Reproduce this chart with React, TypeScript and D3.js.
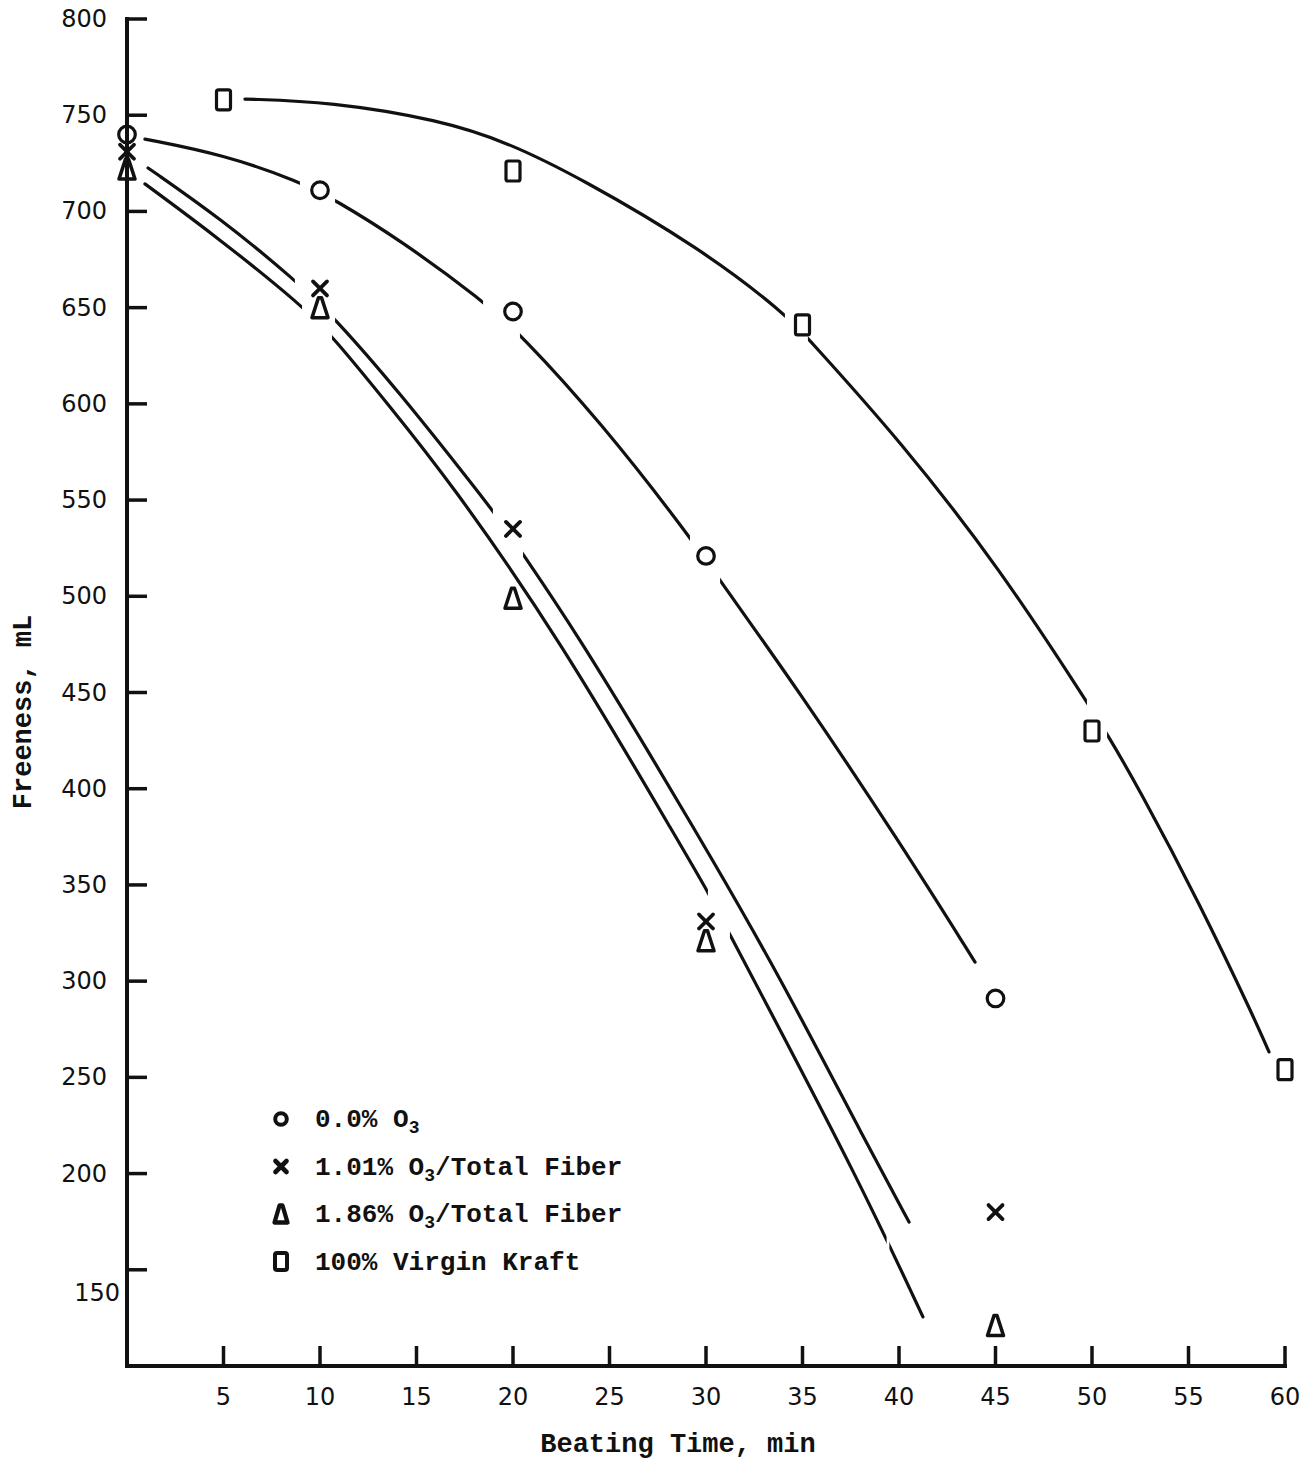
import React from 'react';
import * as d3 from 'd3';

const W = 1301;
const H = 1463;

// Axis ticks
const xTicks = [5, 10, 15, 20, 25, 30, 35, 40, 45, 50, 55, 60];
const yTicks = [150, 200, 250, 300, 350, 400, 450, 500, 550, 600, 650, 700, 750, 800];

// Measured freeness (mL) against beating time (min)
const circleData: [number, number][] = [[0, 740], [10, 711], [20, 648], [30, 521], [45, 291]];
const crossData: [number, number][] = [[0, 731], [10, 660], [20, 535], [30, 331], [45, 180]];
const triangleData: [number, number][] = [[0, 722], [10, 650], [20, 499], [30, 321], [45, 121]];
const squareData: [number, number][] = [[5, 758], [20, 721], [35, 641], [50, 430], [60, 254]];

// Hand-fitted trend curves (time, freeness) and the stretches where the pen was lifted
const circleFit: [number, number][] = [
  [0.93, 737.6], [5, 729.5], [8.96, 715.5], [10.78, 706.0], [14.15, 685.2], [18.45, 653.5], [20.36, 636.5],
  [24.51, 591.0], [29.17, 531.0], [30.73, 508.0], [34.87, 450.0], [40.05, 372.0], [43.94, 309.9],
];
const circleGaps: [number, number][] = [[8.96, 10.78], [18.45, 20.36], [29.17, 30.73]];

const crossFit: [number, number][] = [
  [1.09, 722.6], [4.82, 696.5], [8.7, 664.5], [10.78, 644.5], [14.15, 605.5], [17.67, 561.0],
  [18.96, 544.5], [20.52, 522.0], [23.37, 479.5], [27.1, 418.0], [30.31, 363.5], [33.68, 305.0],
  [38.5, 212.3], [40.52, 174.8],
];
const crossGaps: [number, number][] = [[8.7, 10.78], [18.96, 20.52]];

const triangleFit: [number, number][] = [
  [0.93, 714.3], [4.82, 685.5], [9.07, 651.0], [10.62, 635.5], [13.63, 598.5], [16.63, 561.0],
  [22.33, 479.5], [29.07, 364.0], [30.1, 346.5], [31.24, 324.0], [32.38, 302.5], [37.98, 195.5],
  [41.24, 125.5],
];
const triangleGaps: [number, number][] = [[9.07, 10.62], [30.1, 31.24], [39.36, 39.5]];

const squareFit: [number, number][] = [
  [6.11, 758.4], [10.52, 757.0], [16.22, 747.5], [19.69, 736.0], [23.47, 717.5], [29.69, 681.0],
  [34.09, 647.0], [35.28, 634.0], [40.05, 581.0], [45.23, 514.5], [49.74, 445.0], [50.78, 428.5],
  [52.38, 401.0], [55.6, 340.0], [58.45, 279.8], [59.17, 263.2],
];
const squareGaps: [number, number][] = [[34.09, 35.28], [49.74, 50.78]];

// Legend entries: main text, subscript, trailing text
const legendLabels: [string, string, string][] = [
  ['0.0% O', '3', ''],
  ['1.01% O', '3', '/Total Fiber'],
  ['1.86% O', '3', '/Total Fiber'],
  ['100% Virgin Kraft', '', ''],
];

// Break in the vertical axis (freeness values)
const axisBreak: [number, number] = [160.8, 162.8];

type Sym = 'circle' | 'cross' | 'triangle' | 'square';

const x = d3.scaleLinear().domain([0, 60]).range([127, 1285]);
const y = d3.scaleLinear().domain([100, 800]).range([1366, 19]);

const fitLine = d3
  .line<[number, number]>()
  .x((d) => x(d[0]))
  .y((d) => y(d[1]))
  .curve(d3.curveBasis);

const INK = '#111';

function Marker({ kind, cx, cy, bold = false }: { kind: Sym; cx: number; cy: number; bold?: boolean }) {
  const sw = bold ? 4 : 3.2;
  const common = { stroke: INK, fill: 'none', strokeWidth: sw, strokeLinejoin: 'round' as const };
  if (kind === 'circle') return <circle cx={cx} cy={cy} r={bold ? 5.8 : 8.3} {...common} />;
  if (kind === 'cross') {
    const a = bold ? 5.5 : 7;
    return (
      <g {...common} strokeWidth={sw + 0.6} strokeLinecap="round">
        <line x1={cx - a} y1={cy - a} x2={cx + a} y2={cy + a} />
        <line x1={cx - a} y1={cy + a} x2={cx + a} y2={cy - a} />
      </g>
    );
  }
  if (kind === 'triangle') {
    const hw = bold ? 6.5 : 8;
    const hh = bold ? 8.5 : 10;
    return (
      <path
        d={`M${cx - 1.5},${cy - hh} L${cx + 1.5},${cy - hh} L${cx + hw},${cy + hh} L${cx - hw},${cy + hh} Z`}
        {...common}
        strokeWidth={sw + 0.3}
      />
    );
  }
  const rw = bold ? 12 : 14;
  const rh = bold ? 17 : 20;
  return <rect x={cx - rw / 2} y={cy - rh / 2} width={rw} height={rh} rx={2} {...common} />;
}

const series: { id: string; kind: Sym; data: [number, number][]; fit: [number, number][]; gaps: [number, number][] }[] = [
  { id: 'c', kind: 'circle', data: circleData, fit: circleFit, gaps: circleGaps },
  { id: 'x', kind: 'cross', data: crossData, fit: crossFit, gaps: crossGaps },
  { id: 't', kind: 'triangle', data: triangleData, fit: triangleFit, gaps: triangleGaps },
  { id: 's', kind: 'square', data: squareData, fit: squareFit, gaps: squareGaps },
];

const legendKinds: Sym[] = ['circle', 'cross', 'triangle', 'square'];

export default function App() {
  const x0 = x(0);
  const yBottom = y(100);
  const tickFont = { fontFamily: '"DejaVu Sans", sans-serif', fontSize: 24, fill: INK };
  const typeFont = { fontFamily: '"Liberation Mono", "DejaVu Sans Mono", monospace', fontWeight: 700, fill: INK };

  return (
    <svg
      width={W}
      height={H}
      viewBox={`0 0 ${W} ${H}`}
      style={{ position: 'absolute', left: 0, top: 0, background: '#fff' }}
    >
      <defs>
        {series.map((s) => (
          <mask key={s.id} id={`gap-${s.id}`} maskUnits="userSpaceOnUse" x={0} y={0} width={W} height={H}>
            <rect x={0} y={0} width={W} height={H} fill="#fff" />
            {s.gaps.map((g, i) => (
              <rect key={i} x={x(g[0])} y={0} width={x(g[1]) - x(g[0])} height={H} fill="#000" />
            ))}
          </mask>
        ))}
      </defs>
      <rect x={0} y={0} width={W} height={H} fill="#fff" />

      {/* axes */}
      <g stroke={INK} strokeWidth={4} strokeLinecap="square">
        <line x1={x0} y1={y(800)} x2={x0} y2={y(axisBreak[1])} />
        <line x1={x0} y1={y(axisBreak[0])} x2={x0} y2={yBottom} />
        <line x1={x0} y1={yBottom} x2={x(60)} y2={yBottom} />
      </g>
      <g stroke={INK} strokeWidth={3.5}>
        {yTicks.map((t) => (
          <line key={t} x1={x0} x2={x0 + 20} y1={y(t)} y2={y(t)} />
        ))}
        {xTicks.map((t) => (
          <line key={t} x1={x(t)} x2={x(t)} y1={yBottom} y2={yBottom - 20} />
        ))}
      </g>
      <g {...tickFont}>
        {yTicks.map((t) => {
          const low = t === 150;
          return (
            <text
              key={t}
              x={low ? 120 : 107}
              y={y(t) + (low ? 23 : 0)}
              textAnchor="end"
              dominantBaseline="central"
            >
              {t}
            </text>
          );
        })}
        {xTicks.map((t) => (
          <text key={t} x={x(t)} y={1405} textAnchor="middle">
            {t}
          </text>
        ))}
      </g>

      {/* axis titles */}
      <text x={678} y={1452} textAnchor="middle" fontSize={27} {...typeFont}>
        Beating Time, min
      </text>
      <text transform="translate(31,712) rotate(-90)" textAnchor="middle" fontSize={27} {...typeFont}>
        Freeness, mL
      </text>

      {/* fitted curves */}
      {series.map((s) => (
        <path
          key={s.id}
          d={fitLine(s.fit) ?? ''}
          fill="none"
          stroke={INK}
          strokeWidth={3.2}
          strokeLinecap="round"
          mask={`url(#gap-${s.id})`}
        />
      ))}

      {/* data points */}
      {series.map((s) =>
        s.data.map((d, i) => <Marker key={`${s.id}${i}`} kind={s.kind} cx={x(d[0])} cy={y(d[1])} />)
      )}

      {/* legend */}
      {legendLabels.map((l, i) => {
        const base = 1127 + i * 47.5;
        return (
          <g key={i}>
            <Marker kind={legendKinds[i]} cx={281} cy={base - 8} bold />
            <text x={315} y={base} fontSize={26} {...typeFont}>
              {l[0]}
              {l[1] && (
                <tspan fontSize={18} dy={6}>
                  {l[1]}
                </tspan>
              )}
              {l[2] && <tspan dy={-6}>{l[2]}</tspan>}
            </text>
          </g>
        );
      })}
    </svg>
  );
}
